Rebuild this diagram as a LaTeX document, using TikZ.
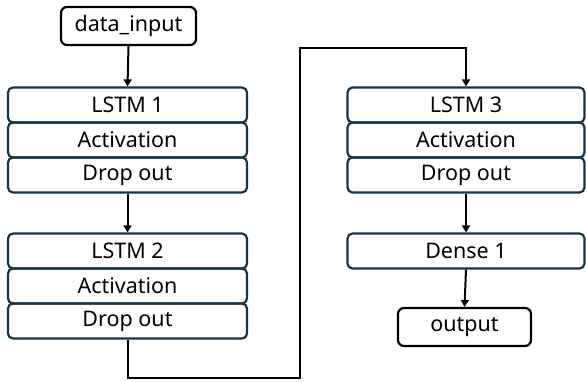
\documentclass[tikz,border=0pt]{standalone}
\usepackage{fontspec}
\setmainfont{Noto Sans}
\usetikzlibrary{arrows.meta}
\definecolor{boxc}{RGB}{24,52,70}
\begin{document}
\begin{tikzpicture}[x=1pt,y=-1pt,
  layer/.style={draw=boxc, line width=2.2pt, rounded corners=5pt, minimum width=239pt, minimum height=35pt, inner sep=0pt, font=\fontsize{21.5}{21.5}\selectfont},
  term/.style={draw=black, line width=2.2pt, rounded corners=6pt, minimum height=38pt, inner sep=0pt, font=\fontsize{21.5}{21.5}\selectfont},
  conn/.style={line width=2pt, -{Triangle[length=7pt,width=8pt]}}]
\useasboundingbox (0,0) rectangle (586,381);
\node[term, minimum width=135pt] (in) at (128.5,26) {data\_input};
\node[layer] (l1) at (127.5,105) {LSTM 1};
\node[layer] (a1) at (127.5,140) {Activation};
\node[layer] (d1) at (127.5,175) {Drop out};
\node[layer] (l2) at (127.5,251) {LSTM 2};
\node[layer] (a2) at (127.5,286) {Activation};
\node[layer] (d2) at (127.5,321) {Drop out};
\node[layer, minimum width=237pt] (l3) at (466,105) {LSTM 3};
\node[layer, minimum width=237pt] (a3) at (466,140) {Activation};
\node[layer, minimum width=237pt] (d3) at (466,175) {Drop out};
\node[layer, minimum width=237pt] (de) at (466,251) {Dense 1};
\node[term, minimum width=133pt] (out) at (464.5,327) {output};
\coordinate (bot) at (300,378);
\coordinate (top) at (300,48);
\draw[conn] (in.south) -- (l1.north);
\draw[conn] (d1.south) -- (l2.north);
\draw[conn] (d2.south) -- (d2.south |- bot) -- (bot) -- (top) -- (top -| l3.north) -- (l3.north);
\draw[conn] (d3.south) -- (de.north);
\draw[conn] (de.south) -- (out.north);
\end{tikzpicture}
\end{document}
